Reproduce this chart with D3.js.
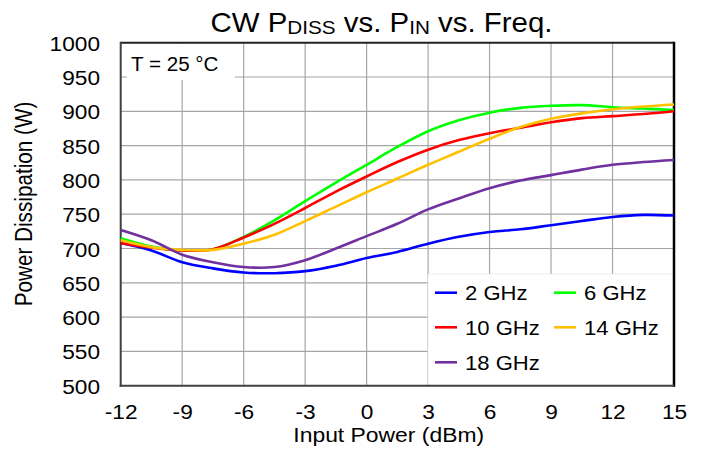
<!DOCTYPE html>
<html>
<head>
<meta charset="utf-8">
<script src="https://cdn.jsdelivr.net/npm/d3@7"></script>
<style>
  html, body { margin: 0; padding: 0; background: #fff; }
  svg { display: block; font-family: "Liberation Sans", Arial, sans-serif; }
</style>
</head>
<body>
<svg id="chart" width="703" height="453"></svg>
<script>
// ---- data ----
const inputPower = [-12, -10.5, -9, -7.5, -6, -4.5, -3, -1.5, 0, 1.5, 3, 4.5, 6, 7.5, 9, 10.5, 12, 13.5, 15];
const ghz2  = [708, 697, 680, 671, 665, 664, 667, 675, 686, 695, 707, 717, 724, 728, 734, 740, 746, 749, 748];
const ghz6  = [715, 703, 697, 699, 717, 741, 769, 796, 822, 848, 871, 887, 898, 905, 908, 909, 906, 904, 902];
const ghz10 = [708, 701, 697, 699, 716, 736, 759, 783, 805, 826, 844, 858, 868, 876, 884, 890, 893, 896, 900];
const ghz14 = [712, 702, 698, 698, 707, 720, 740, 761, 782, 802, 822, 841, 860, 877, 889, 897, 903, 907, 910];
const ghz18 = [727, 712, 691, 680, 673, 673, 683, 700, 718, 736, 757, 773, 788, 799, 807, 815, 822, 826, 829];
const seriesNames = ["2 GHz", "6 GHz", "10 GHz", "14 GHz", "18 GHz"];
const seriesValues = [ghz2, ghz6, ghz10, ghz14, ghz18];
const seriesColors = ["#0000ff", "#00ff00", "#ff0000", "#ffc000", "#7030a0"];
const xTicks = [-12, -9, -6, -3, 0, 3, 6, 9, 12, 15];
const yTicks = [500, 550, 600, 650, 700, 750, 800, 850, 900, 950, 1000];

// ---- layout ----
const SX = 1.08; // horizontal text stretch of the reference
const svg = d3.select("#chart");
const x = d3.scaleLinear().domain([-12, 15]).range([120.7, 674]);
const y = d3.scaleLinear().domain([500, 1000]).range([385.7, 42.7]);
const [x0, x1] = x.range();
const [yb, yt] = y.range();

function stretchedText(g, px, py, str, size, anchor, sx) {
  const t = g.append("g").attr("transform", `translate(${px},${py}) scale(${sx || SX},1)`)
    .append("text").attr("font-size", size).attr("text-anchor", anchor || "start").attr("fill", "#000");
  if (str !== undefined) t.text(str);
  return t;
}

// gridlines
const grid = svg.append("g");
grid.selectAll("line.v").data(xTicks.slice(1, -1)).join("line")
  .attr("x1", d => x(d)).attr("x2", d => x(d)).attr("y1", yt).attr("y2", yb)
  .attr("stroke", "#a6a6a6").attr("stroke-width", 1.2);
grid.selectAll("line.h").data(yTicks.slice(1, -1)).join("line")
  .attr("x1", x0).attr("x2", x1).attr("y1", d => y(d)).attr("y2", d => y(d))
  .attr("stroke", "#a6a6a6").attr("stroke-width", 1.2);

// boxes covering gridlines
svg.append("rect").attr("x", 127).attr("y", 44).attr("width", 108).attr("height", 36).attr("fill", "#fff");
svg.append("rect").attr("x", 428).attr("y", 274).attr("width", x1 - 428).attr("height", yb - 274)
  .attr("fill", "#fff").attr("stroke", "#e6e6e6").attr("stroke-width", 0.8);

// axes (ticks via d3 axes, domain lines drawn as frame)
const xAxis = svg.append("g").attr("transform", `translate(0,${yb})`)
  .call(d3.axisBottom(x).tickValues(xTicks).tickSize(0).tickPadding(0).tickFormat(d => String(d)));
xAxis.select(".domain").remove();
xAxis.selectAll(".tick text").attr("font-size", 21).attr("font-family", "Liberation Sans, Arial, sans-serif")
  .attr("fill", "#000").attr("dy", null).attr("y", 33.8).attr("transform", `scale(${SX},1)`);

const yAxis = svg.append("g").attr("transform", `translate(${x0},0)`)
  .call(d3.axisLeft(y).tickValues(yTicks).tickSize(0).tickPadding(0).tickFormat(d => String(d)));
yAxis.select(".domain").remove();
yAxis.selectAll(".tick text").attr("font-size", 21).attr("font-family", "Liberation Sans, Arial, sans-serif")
  .attr("fill", "#000").attr("dy", "0.36em").attr("x", -20.7 / SX).attr("transform", `scale(${SX},1)`);

// frame
svg.append("line").attr("x1", x0).attr("x2", x1).attr("y1", yt).attr("y2", yt).attr("stroke", "#222").attr("stroke-width", 2);
svg.append("line").attr("x1", x1).attr("x2", x1).attr("y1", yt - 1).attr("y2", yb + 1).attr("stroke", "#000").attr("stroke-width", 2.5);
svg.append("line").attr("x1", x0).attr("x2", x0).attr("y1", yt - 1).attr("y2", yb + 1).attr("stroke", "#404040").attr("stroke-width", 2);
svg.append("line").attr("x1", x0 - 1).attr("x2", x1).attr("y1", yb).attr("y2", yb).attr("stroke", "#404040").attr("stroke-width", 2);

// series lines
const line = d3.line().x((d, i) => x(inputPower[i])).y(d => y(d)).curve(d3.curveCatmullRom.alpha(0.5));
svg.append("g").selectAll("path").data(seriesValues).join("path")
  .attr("d", d => line(d)).attr("fill", "none")
  .attr("stroke", (d, i) => seriesColors[i]).attr("stroke-width", 2.6);

// T label
stretchedText(svg, 131, 70.7, "T = 25 °C", 20, "start", 1.03);

// legend
const legendPos = [[435, 292.7], [554, 292.7], [435, 327.3], [554, 327.3], [435, 362.3]];
seriesNames.forEach((name, i) => {
  const [lx, ly] = legendPos[i];
  svg.append("line").attr("x1", lx).attr("x2", lx + 22).attr("y1", ly).attr("y2", ly)
    .attr("stroke", seriesColors[i]).attr("stroke-width", 2.6);
  stretchedText(svg, lx + 30, ly + 7.5, name, 21, "start", 1.05);
});

// title
const title = stretchedText(svg, 381.5, 31.7, undefined, 27, "middle", 1.09);
title.append("tspan").text("CW P");
title.append("tspan").attr("font-size", 19).attr("dy", 2).text("DISS");
title.append("tspan").attr("dy", -2).text(" vs. P");
title.append("tspan").attr("font-size", 19).attr("dy", 2).text("IN");
title.append("tspan").attr("dy", -2).text(" vs. Freq.");

// axis titles
stretchedText(svg, 388.7, 441.7, "Input Power (dBm)", 21, "middle", 1.09);
svg.append("g").attr("transform", `translate(31.7,204) rotate(-90) scale(1,1.12)`)
  .append("text").attr("text-anchor", "middle").attr("font-size", 20.7).attr("fill", "#000")
  .text("Power Dissipation (W)");
</script>
</body>
</html>
